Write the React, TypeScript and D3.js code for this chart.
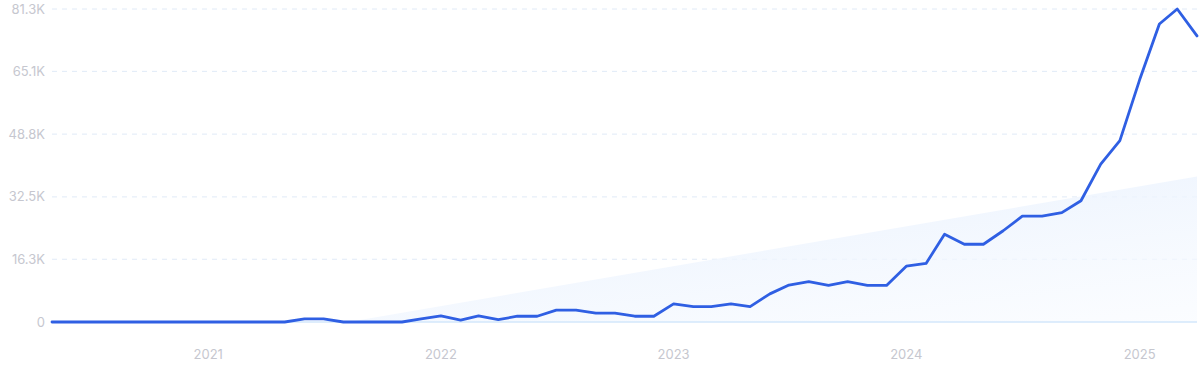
import React from "react";
import * as d3 from "d3";

const START = new Date(2020, 4, 1); // May 2020
const values: number[] = [
  0, 0, 0, 0, 0, 0, 0, 0, 0, 0, 0, 0, 0, 0.8, 0.8, 0, 0, 0, 0, 0.8,
  1.6, 0.5, 1.6, 0.6, 1.5, 1.5, 3.1, 3.1, 2.3, 2.3, 1.5, 1.5,
  4.7, 4.0, 4.0, 4.7, 4.0, 7.3, 9.6, 10.5, 9.5, 10.5, 9.5, 9.5,
  14.5, 15.2, 22.8, 20.2, 20.2, 23.7, 27.5, 27.5, 28.4, 31.5, 41.0, 47.1,
  62.9, 77.4, 81.3, 74.3,
].map((v) => v * 1000);
const dates: Date[] = values.map((_, i) => d3.timeMonth.offset(START, i));

const yTicks: number[] = [0, 16300, 32500, 48800, 65100, 81300];
const yTickLabels: string[] = ["0", "16.3K", "32.5K", "48.8K", "65.1K", "81.3K"];
const xTickYears: number[] = [2021, 2022, 2023, 2024, 2025];

// trend line (start and end values), clipped at zero
const trendStart = -13200;
const trendEnd = 37800;

const W = 1200;
const H = 371;
const L = 52;
const R = 1197;
const TOP = 9;
const BOTTOM = 322;

export default function App() {
  const x = d3.scaleTime().domain([dates[0], dates[dates.length - 1]]).range([L, R]);
  const y = d3.scaleLinear().domain([0, 81300]).range([BOTTOM, TOP]);

  const n = values.length;
  const tZero = (-trendStart / (trendEnd - trendStart)) * (n - 1);
  const t0 = dates[0].getTime();
  const t1 = dates[n - 1].getTime();
  const zeroDate = new Date(t0 + ((t1 - t0) * tZero) / (n - 1));
  const areaPts: [Date, number][] = [[dates[0], 0], [zeroDate, 0], [dates[n - 1], trendEnd]];
  const area = d3
    .area<[Date, number]>()
    .x((d) => x(d[0]))
    .y0(y(0))
    .y1((d) => y(d[1]));

  const line = d3
    .line<number>()
    .x((_, i) => x(dates[i]))
    .y((d) => y(d));

  const font = "Inter, 'Noto Sans', sans-serif";

  return (
    <svg
      width={W}
      height={H}
      style={{ position: "absolute", left: 0, top: 0, background: "#fff" }}
    >
      <defs>
        <linearGradient id="trendGrad" x1="0" y1="0" x2="1" y2="1">
          <stop offset="0" stopColor="#e2edfc" stopOpacity={0.95} />
          <stop offset="0.5" stopColor="#edf4fe" stopOpacity={0.8} />
          <stop offset="1" stopColor="#f8fbff" stopOpacity={0.6} />
        </linearGradient>
      </defs>
      {yTicks.map((t, i) =>
        i === 0 ? null : (
          <line
            key={t}
            x1={L}
            x2={R}
            y1={y(t)}
            y2={y(t)}
            stroke="#e0eaf7"
            strokeWidth={1}
            strokeDasharray="5,5"
          />
        )
      )}
      <path d={area(areaPts) || ""} fill="url(#trendGrad)" />
      <line x1={L} x2={R} y1={y(0)} y2={y(0)} stroke="#d3e7fb" strokeWidth={1.5} />
      {yTicks.map((t, i) => (
        <text
          key={"l" + t}
          x={45}
          y={y(t)}
          dy="0.35em"
          textAnchor="end"
          fill="#c6c7cf"
          fontFamily={font}
          fontSize={13}
        >
          {yTickLabels[i]}
        </text>
      ))}
      {xTickYears.map((yr) => (
        <text
          key={yr}
          x={x(new Date(yr, 0, 1))}
          y={354}
          dy="0.35em"
          textAnchor="middle"
          fill="#c6c7cf"
          fontFamily={font}
          fontSize={13}
        >
          {yr}
        </text>
      ))}
      <path
        d={line(values) || ""}
        fill="none"
        stroke="#2f5fe3"
        strokeWidth={2.8}
        strokeLinejoin="round"
        strokeLinecap="round"
      />
    </svg>
  );
}
